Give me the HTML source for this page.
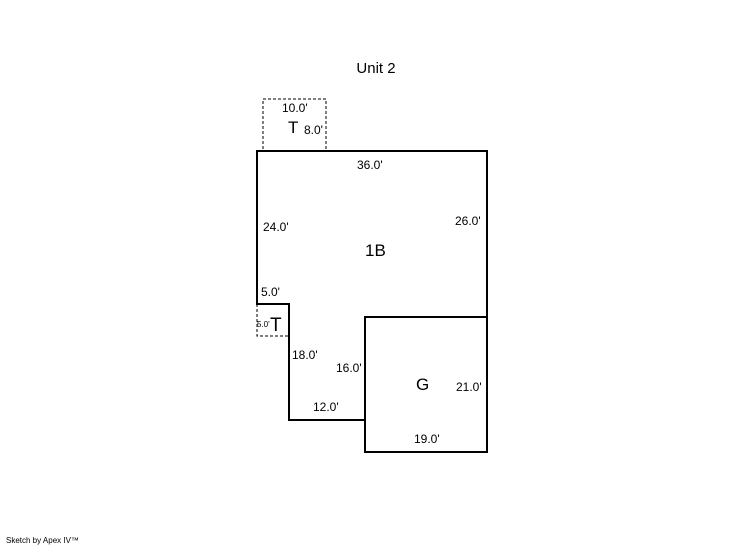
<!DOCTYPE html>
<html><head><style>
body{margin:0;background:#fff;width:746px;height:547px;overflow:hidden;}
svg{display:block;font-family:"Liberation Sans",Arial,sans-serif;}
</style></head><body>
<svg width="746" height="547" viewBox="0 0 746 547">
<text x="376" y="73" font-size="15" text-anchor="middle">Unit 2</text>
<rect x="263" y="99" width="63" height="52" fill="none" stroke="#000" stroke-width="1" stroke-dasharray="3,2"/>
<rect x="257" y="304" width="32" height="32" fill="none" stroke="#000" stroke-width="1" stroke-dasharray="3,2"/>
<path d="M257,151 H487 V452 H365 V420 H289 V304 H257 Z" fill="none" stroke="#000" stroke-width="2"/>
<path d="M365,420 V317 H487" fill="none" stroke="#000" stroke-width="2"/>
<g font-size="12">
<text x="282" y="112">10.0'</text>
<text x="304" y="134">8.0'</text>
<text x="357" y="169">36.0'</text>
<text x="263" y="231">24.0'</text>
<text x="455" y="225">26.0'</text>
<text x="261" y="296">5.0'</text>
<text x="292" y="359">18.0'</text>
<text x="336" y="372">16.0'</text>
<text x="313" y="411">12.0'</text>
<text x="456" y="391">21.0'</text>
<text x="414" y="443">19.0'</text>
</g>
<text x="257" y="327" font-size="8">5.0'</text>
<g font-size="17">
<text x="288" y="133">T</text>
<text x="270" y="331" font-size="19">T</text>
<text x="365" y="256">1B</text>
<text x="416" y="390">G</text>
</g>
<text x="6" y="543" font-size="8">Sketch by Apex IV™</text>
</svg>
</body></html>
